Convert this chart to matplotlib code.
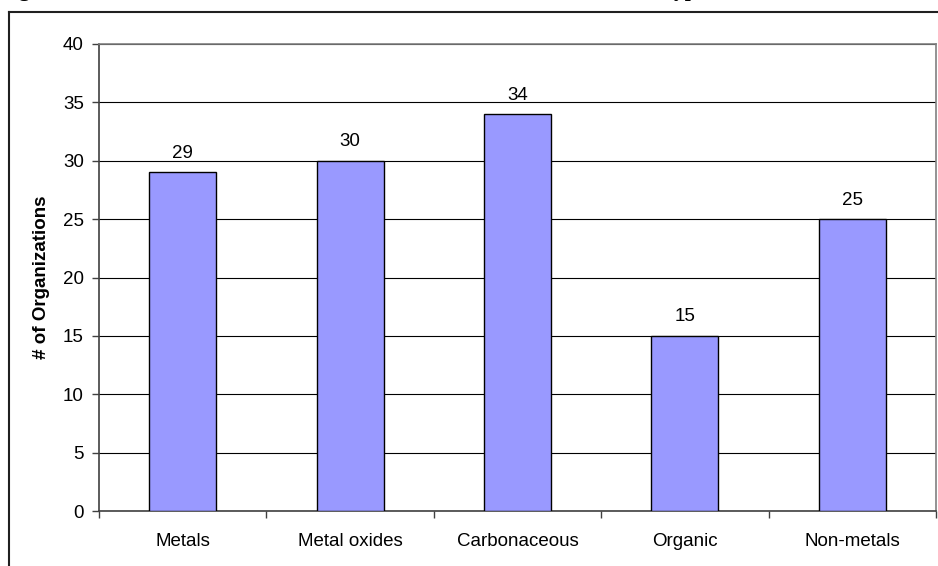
import numpy as np
import matplotlib.pyplot as plt

plt.rcParams["font.family"] = ["Liberation Sans", "DejaVu Sans"]

categories = ["Metals", "Metal oxides", "Carbonaceous", "Organic", "Non-metals"]
counts = [29, 30, 34, 15, 25]
y_ticks = [0, 5, 10, 15, 20, 25, 30, 35, 40]

W, H = 938, 566
fig = plt.figure(figsize=(W / 100, H / 100), dpi=100)

# plot area in pixel coordinates
left, right, top, bottom = 99, 936, 44, 511
ax = fig.add_axes([left / W, 1 - bottom / H, (right - left) / W, (bottom - top) / H])

x = np.arange(len(categories))
bars = ax.bar(x, counts, width=0.4, color="#9999FF", edgecolor="black",
              linewidth=1.0, zorder=3)

for xi, v in zip(x, counts):
    ax.text(xi, v + 0.9, str(v), ha="center", va="bottom", fontsize=13.5)

ax.set_xlim(-0.5, len(categories) - 0.5)
ax.set_ylim(0, 40)
ax.set_yticks(y_ticks)
ax.tick_params(axis="y", labelsize=13.5, length=5, width=1, direction="out",
               color="#404040", pad=6)
ax.yaxis.grid(True, color="black", linewidth=0.8, zorder=0)

# category labels centered, tick marks on category boundaries
ax.set_xticks(x)
ax.set_xticklabels(categories, fontsize=13.5)
ax.tick_params(axis="x", length=0, pad=16)
ax.set_xticks(np.arange(len(categories) + 1) - 0.5, minor=True)
ax.tick_params(axis="x", which="minor", length=5, width=1, color="#404040")

for side in ["top", "right"]:
    ax.spines[side].set_color("#808080")
    ax.spines[side].set_linewidth(1.2)
ax.spines["left"].set_color("#404040")
ax.spines["bottom"].set_color("#404040")
ax.spines["left"].set_linewidth(1.2)
ax.spines["bottom"].set_linewidth(1.2)

ax.set_ylabel("# of Organizations", fontsize=13.5, fontweight="bold", labelpad=9)

# chart area border (top and left edges)
fig.add_artist(plt.Line2D([9 / W, 1], [1 - 12 / H, 1 - 12 / H],
                          color="#202020", linewidth=1.5))
fig.add_artist(plt.Line2D([9 / W, 9 / W], [0, 1 - 12 / H],
                          color="#202020", linewidth=1.5))

# figure caption sitting above the chart, mostly outside the page
fig.text(0 / W, 1 + 4 / H,
         "Figure 4: Number of Research Units Active in Each Class, Listed Under Type of Core Particle",
         ha="left", va="baseline", fontsize=15.5, fontweight="bold",
         family=["Liberation Serif", "DejaVu Serif"])

fig.savefig("out.png", dpi=100)
